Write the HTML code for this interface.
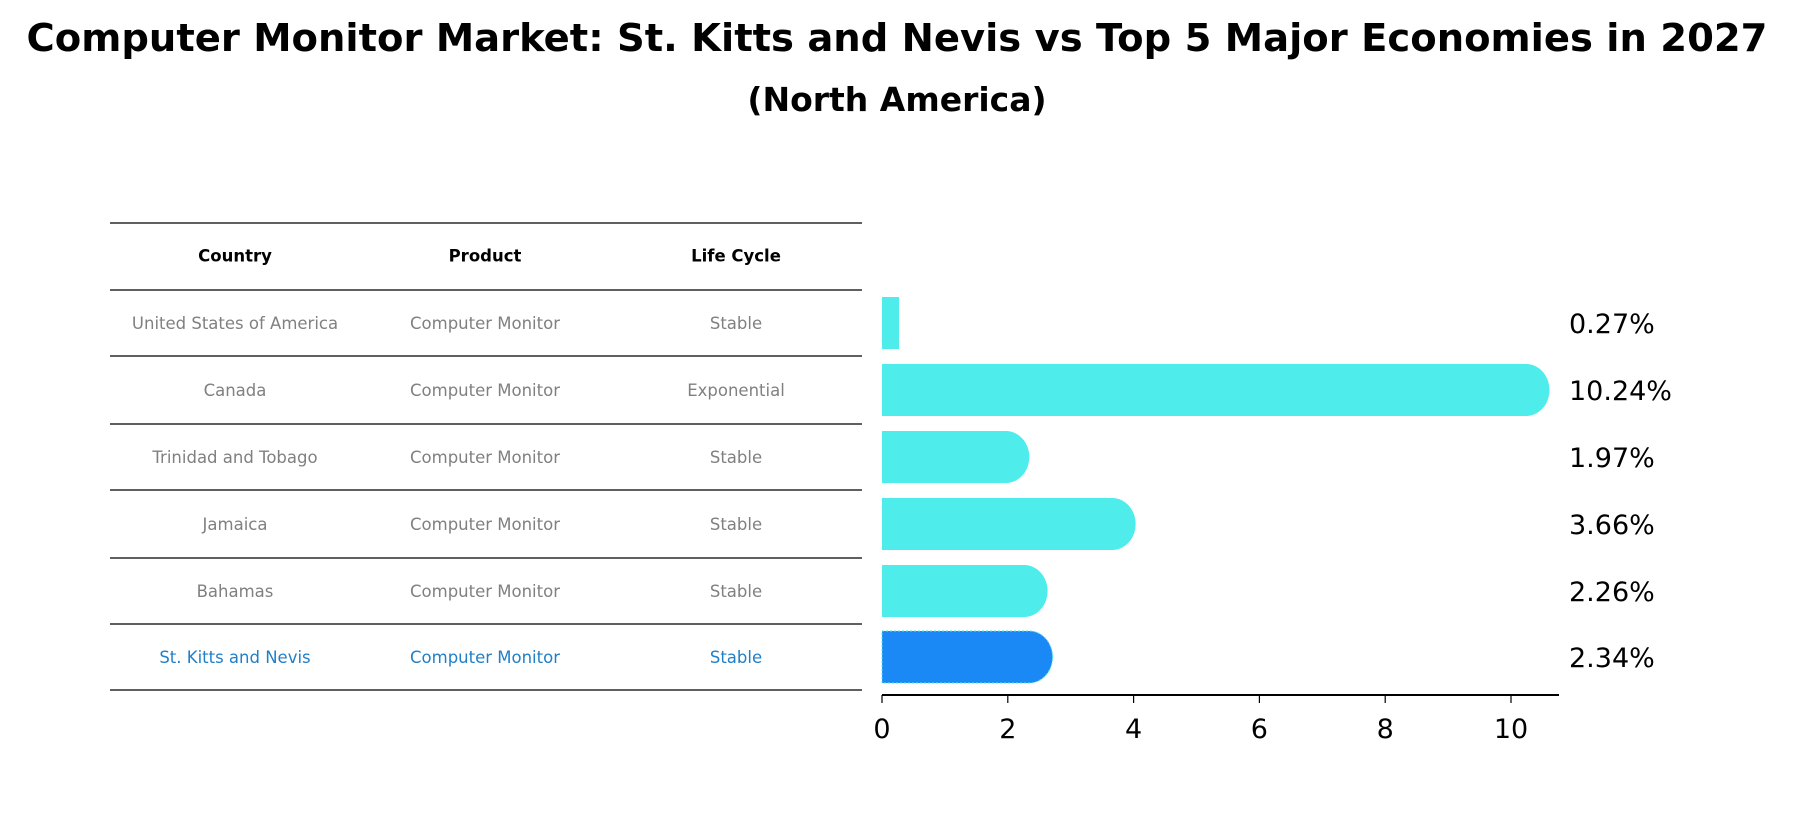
<!DOCTYPE html>
<html><head><meta charset="utf-8"><style>
body{margin:0;background:#fff;font-family:"DejaVu Sans","Liberation Sans",sans-serif;}
</style></head><body>
<svg width="1795" height="823" viewBox="0 0 1795 823" xmlns="http://www.w3.org/2000/svg">
<text x="897" y="51" text-anchor="middle" font-size="38.5" font-weight="bold" font-family="DejaVu Sans, sans-serif">Computer Monitor Market: St. Kitts and Nevis vs Top 5 Major Economies in 2027</text>
<text x="897" y="111" text-anchor="middle" font-size="33" font-weight="bold" font-family="DejaVu Sans, sans-serif">(North America)</text>
<g id="table"></g>
<g id="bars"></g>
</svg>
<script>
const countries=["United States of America","Canada","Trinidad and Tobago","Jamaica","Bahamas","St. Kitts and Nevis"];
const products=["Computer Monitor","Computer Monitor","Computer Monitor","Computer Monitor","Computer Monitor","Computer Monitor"];
const lifeCycles=["Stable","Exponential","Stable","Stable","Stable","Stable"];
const values=[0.27,10.24,1.97,3.66,2.26,2.34];
const ticks=[0,2,4,6,8,10];
const NS="http://www.w3.org/2000/svg";
function mk(t,a,p){const e=document.createElementNS(NS,t);for(const k in a)e.setAttribute(k,a[k]);p.appendChild(e);return e;}
const tbl=document.getElementById('table'), bars=document.getElementById('bars');
const lineYs=[223,290,356,424,490,558,624,690];
const colX=[235,485,736];
const x0=882, sx=62.9;
function xs(v){return x0+v*sx;}
function rowY(i){return (lineYs[i+1]+lineYs[i+2])/2;}
lineYs.forEach((y,i)=>{const l=mk('line',{x1:110,x2:862,y1:y,y2:y,stroke:'#000','stroke-width':1.2},tbl);

});
["Country","Product","Life Cycle"].forEach((h,j)=>{const t=mk('text',{x:colX[j],y:(lineYs[0]+lineYs[1])/2+5,'text-anchor':'middle','font-size':16.5,'font-weight':'bold'},tbl);t.textContent=h;

});
countries.forEach((c,i)=>{const col=i===countries.length-1?'#1f7fc8':'#808080';
[c,products[i],lifeCycles[i]].forEach((s,j)=>{const t=mk('text',{x:colX[j],y:rowY(i)+6,'text-anchor':'middle','font-size':16.5,fill:col},tbl);t.textContent=s;

});
const h=52,yc=rowY(i),v=values[i],xe=xs(v),r=h/2;
const fill=i===countries.length-1?'#1a88f5':'#4eecea';
let d;
if(v<0.6){d=`M${x0},${yc-r}H${xe}V${yc+r}H${x0}Z`;}
else{const xa=xe;d=`M${x0},${yc-r}H${xa}A${r*0.9},${r} 0 0 1 ${xa},${yc+r}H${x0}Z`;}
const p=mk('path',{d:d,fill:fill},bars);
if(i===countries.length-1){p.setAttribute('stroke','#4eecea');p.setAttribute('stroke-dasharray','2 2');p.setAttribute('stroke-width','1');}


const lt=mk('text',{x:1569,y:yc+10,'font-size':27},bars);lt.textContent=v.toFixed(2)+'%';


});
const ax=mk('line',{x1:x0,x2:1559,y1:695,y2:695,stroke:'#000','stroke-width':2},bars);


ticks.forEach(t=>{const tk=mk('line',{x1:xs(t),x2:xs(t),y1:695,y2:703,stroke:'#000','stroke-width':1.2},bars);


const tl=mk('text',{x:xs(t),y:738,'text-anchor':'middle','font-size':27},bars);tl.textContent=t;

});
</script>
</body></html>
